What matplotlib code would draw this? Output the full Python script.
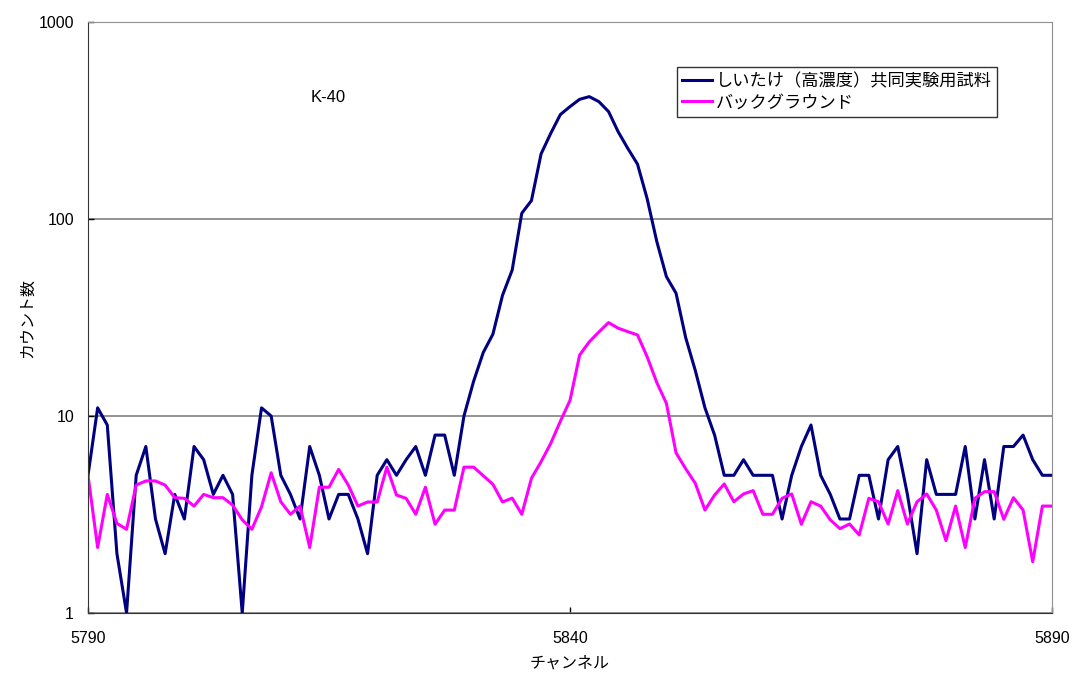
import matplotlib
matplotlib.use("Agg")
from matplotlib import pyplot as plt
import numpy as np

plt.rcParams['font.family'] = ['Noto Sans CJK JP', 'DejaVu Sans']

channels = np.arange(5790, 5891)

# しいたけ（高濃度）共同実験用試料
sample = [5, 11, 9, 2, 1, 5, 7, 3, 2, 4,
          3, 7, 6, 4, 5, 4, 1, 5, 11, 10,
          5, 4, 3, 7, 5, 3, 4, 4, 3, 2,
          5, 6, 5, 6, 7, 5, 8, 8, 5, 10,
          15, 21, 26, 41, 55, 107, 124, 214, 272, 339,
          372, 405, 418, 394, 351, 277, 228, 190, 127, 77,
          51, 42, 25, 17, 11, 8, 5, 5, 6, 5,
          5, 5, 3, 5, 7, 9, 5, 4, 3, 3,
          5, 5, 3, 6, 7, 4, 2, 6, 4, 4,
          4, 7, 3, 6, 3, 7, 7, 8, 6, 5, 5]

# バックグラウンド
background = [5.0, 2.15, 4.0, 2.85, 2.66, 4.46, 4.68, 4.68, 4.46, 3.85,
              3.82, 3.49, 4.0, 3.85, 3.85, 3.53, 2.97, 2.66, 3.46, 5.15,
              3.67, 3.17, 3.49, 2.15, 4.35, 4.35, 5.36, 4.46, 3.49, 3.66,
              3.66, 5.5, 3.97, 3.82, 3.17, 4.35, 2.82, 3.33, 3.33, 5.5,
              5.5, 4.98, 4.5, 3.66, 3.83, 3.17, 4.83, 5.86, 7.26, 9.4,
              12.0, 20.4, 23.8, 26.7, 29.8, 27.9, 26.8, 25.8, 20.0, 14.8,
              11.6, 6.5, 5.4, 4.55, 3.33, 3.97, 4.52, 3.67, 4.02, 4.18,
              3.17, 3.17, 3.82, 4.02, 2.82, 3.67, 3.49, 2.97, 2.68, 2.83,
              2.49, 3.82, 3.67, 2.83, 4.18, 2.83, 3.67, 4.02, 3.33, 2.33,
              3.49, 2.15, 3.82, 4.13, 4.13, 2.99, 3.85, 3.33, 1.82, 3.49, 3.49]

xticks = [5790, 5840, 5890]
yticks = [1, 10, 100, 1000]

fig = plt.figure(figsize=(10.75, 6.75), dpi=100)
ax = fig.add_axes([88 / 1075, 62 / 675, 964 / 1075, 591 / 675])

ax.plot(channels, sample, color='#000080', lw=2.2, label='しいたけ（高濃度）共同実験用試料')
ax.plot(channels, background, color='#FF00FF', lw=2.2, label='バックグラウンド')

ax.set_yscale('log')
ax.set_xlim(5790, 5890)
ax.set_ylim(1, 1000)
ax.set_xticks(xticks)
ax.set_xticklabels([str(t) for t in xticks])
ax.set_yticks(yticks)
ax.set_yticklabels([str(t) for t in yticks])
ax.minorticks_off()
ax.tick_params(direction='in', length=4, width=1, colors='black')
ax.tick_params(axis='x', pad=13)
ax.tick_params(axis='y', pad=10)
for lab in ax.get_xticklabels() + ax.get_yticklabels():
    lab.set_family(['Liberation Sans'])
    lab.set_fontsize(11.5)

ax.grid(axis='y', color='#808080', lw=1.2)
ax.set_axisbelow(True)
for side in ['top', 'right']:
    ax.spines[side].set_color('#909090')
for side in ['left', 'bottom']:
    ax.spines[side].set_color('#333333')

ax.set_xlabel('チャンネル', fontsize=11.5, labelpad=6)
ax.set_ylabel('カウント数', fontsize=11.5, labelpad=2)

ax.text(0.231, 0.873, 'K-40', transform=ax.transAxes, fontsize=12,
        ha='left', va='center', family=['Liberation Sans'])

leg = ax.legend(loc='upper left', bbox_to_anchor=(0.611, 0.924), borderaxespad=0,
                fontsize=12.4, frameon=True, fancybox=False, handlelength=1.75,
                handletextpad=0.2, borderpad=0.3, labelspacing=0.2)
leg.get_frame().set_edgecolor('black')
leg.get_frame().set_linewidth(1.0)

fig.savefig('out.png', dpi=100)
